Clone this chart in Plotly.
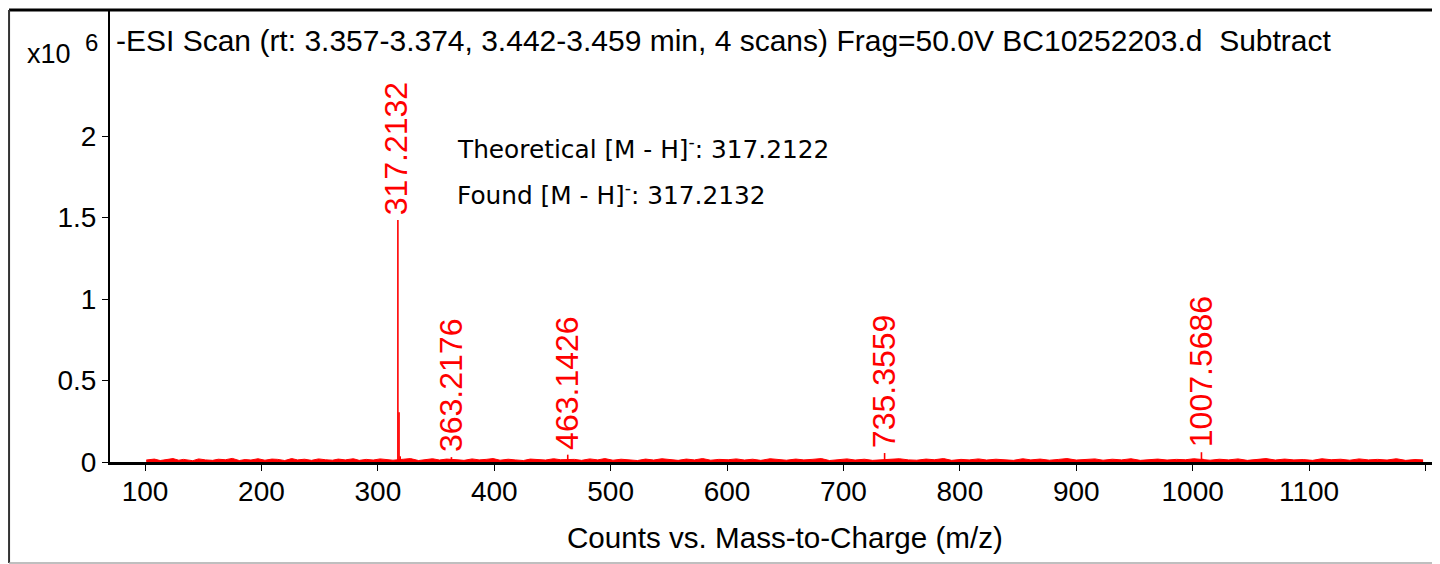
import plotly.graph_objects as go

# ---------------- data ----------------
peak_mz = [317.2132, 318.2165, 319.22, 363.2176, 463.1426, 735.3559, 1007.5686, 1008.572]
peak_int = [1.485, 0.305, 0.035, 0.03, 0.045, 0.055, 0.06, 0.02]  # x10^6 counts

label_mz = [317.2132, 363.2176, 463.1426, 735.3559, 1007.5686]
label_int = [1.485, 0.03, 0.045, 0.055, 0.06]
label_text = ["317.2132", "363.2176", "463.1426", "735.3559", "1007.5686"]

noise_mz = [101, 108, 113, 117, 124, 129, 133, 141, 146, 152,
            158, 163, 169, 175, 181, 186, 191, 197, 203, 209,
            214, 220, 226, 231, 237, 243, 249, 255, 261, 266,
            272, 279, 284, 290, 296, 302, 308, 313, 322, 328,
            335, 341, 347, 353, 359, 368, 374, 381, 387, 393,
            399, 405, 412, 418, 425, 431, 438, 444, 451, 457,
            469, 475, 482, 489, 495, 502, 509, 516, 523, 530,
            537, 544, 551, 558, 565, 572, 579, 586, 593, 601,
            608, 615, 622, 629, 637, 644, 651, 659, 666, 673,
            681, 688, 695, 703, 710, 718, 725, 741, 748, 756,
            763, 771, 778, 786, 793, 801, 808, 816, 823, 831,
            839, 846, 854, 861, 869, 877, 885, 892, 900, 908,
            916, 923, 931, 939, 947, 955, 962, 970, 978, 986,
            994, 1001, 1015, 1023, 1031, 1039, 1047, 1055, 1063, 1071,
            1079, 1087, 1095, 1103, 1111, 1119, 1127, 1135, 1143, 1151,
            1159, 1167, 1175, 1183, 1191, 1198]
noise_int = [.012, .018, .009, .015, .021, .011, .016, .008, .019, .013,
             .010, .017, .014, .022, .009, .015, .012, .020, .011, .018,
             .016, .009, .021, .013, .017, .010, .019, .014, .011, .018,
             .013, .020, .010, .016, .012, .019, .014, .011, .017, .021,
             .009, .015, .020, .012, .018, .014, .010, .019, .013, .016,
             .021, .011, .017, .013, .009, .018, .015, .012, .020, .014,
             .016, .010, .019, .013, .021, .011, .017, .014, .009, .018,
             .012, .020, .015, .010, .018, .013, .021, .011, .016, .014,
             .019, .012, .017, .010, .020, .015, .011, .018, .013, .016,
             .021, .009, .014, .019, .012, .017, .010, .015, .020, .013,
             .011, .018, .014, .021, .010, .016, .013, .019, .012, .017,
             .015, .010, .020, .013, .018, .011, .016, .021, .012, .014,
             .019, .011, .017, .013, .020, .010, .015, .018, .012, .016,
             .014, .020, .011, .017, .013, .019, .010, .016, .021, .012,
             .018, .013, .015, .010, .020, .014, .017, .011, .019, .013,
             .016, .012, .020, .010, .015, .013]

x_ticks = [100, 200, 300, 400, 500, 600, 700, 800, 900, 1000, 1100, 1200]
x_ticklabels = ["100", "200", "300", "400", "500", "600", "700", "800", "900", "1000", "1100", ""]
y_ticks = [0, 0.5, 1, 1.5, 2]
y_ticklabels = ["0", "0.5", "1", "1.5", "2"]

title_text = "-ESI Scan (rt: 3.357-3.374, 3.442-3.459 min, 4 scans) Frag=50.0V BC10252203.d  Subtract"
info_lines = ["Theoretical [M - H]<sup>-</sup>: 317.2122", "Found [M - H]<sup>-</sup>: 317.2132"]
x_title = "Counts vs. Mass-to-Charge (m/z)"
scale_base = "x10"
scale_exp = "6"

RED = "#ff0000"
ARIAL = "Liberation Sans, Arial, sans-serif"
VERDANA = "DejaVu Sans, Verdana, sans-serif"

# stick spectrum built from the peak lists
sx, sy = [], []
for m, h in zip(peak_mz, peak_int):
    sx += [m, m, None]
    sy += [0, h, None]

fig = go.Figure()
fig.add_trace(go.Scatter(x=noise_mz, y=noise_int, mode="lines", fill="tozeroy",
                         fillcolor=RED, line=dict(color=RED, width=1),
                         hoverinfo="skip", showlegend=False))
fig.add_trace(go.Scatter(x=sx, y=sy, mode="lines",
                         line=dict(color=RED, width=1.6), hoverinfo="skip", showlegend=False))

annotations = []
for m, h, t in zip(label_mz, label_int, label_text):
    annotations.append(dict(x=m, y=h, xref="x", yref="y", text=t, showarrow=False,
                            textangle=-90, xanchor="center", yanchor="bottom",
                            xshift=-1, yshift=3,
                            font=dict(family=ARIAL, size=32, color=RED)))
annotations.append(dict(x=0.003, y=0.9336, xref="paper", yref="paper", text=title_text,
                        showarrow=False, xanchor="left", yanchor="middle",
                        font=dict(family=ARIAL, size=30, color="black")))
annotations.append(dict(x=-0.0275, y=0.902, xref="paper", yref="paper",
                        text=scale_base, showarrow=False, xanchor="right", yanchor="middle",
                        font=dict(family=ARIAL, size=27, color="black")))
annotations.append(dict(x=-0.0072, y=0.927, xref="paper", yref="paper",
                        text=scale_exp, showarrow=False, xanchor="right", yanchor="middle",
                        font=dict(family=ARIAL, size=24, color="black")))
for i, line in enumerate(info_lines):
    annotations.append(dict(x=0.2595, y=0.6947 - i * 0.1018, xref="paper", yref="paper",
                            text=line, showarrow=False, xanchor="left", yanchor="middle",
                            font=dict(family=VERDANA, size=24.8, color="black")))
annotations.append(dict(x=0.5075, y=-0.166, xref="paper", yref="paper", text=x_title,
                        showarrow=False, xanchor="center", yanchor="middle",
                        font=dict(family=ARIAL, size=29.6, color="black")))

shapes = [
    # top border
    dict(type="line", xref="paper", yref="paper", x0=-0.0759, x1=1.0, y0=1.0, y1=1.0,
         line=dict(color="black", width=3)),
    # outer left border
    dict(type="line", xref="paper", yref="paper", x0=-0.0759, x1=-0.0759, y0=1.0, y1=-0.2235,
         line=dict(color="#333333", width=2)),
    # bottom border
    dict(type="line", xref="paper", yref="paper", x0=-0.0759, x1=1.0, y0=-0.2235, y1=-0.2235,
         line=dict(color="#aaaaaa", width=1.5)),
]

# the page body has an 8 px margin, so the figure is 8 px smaller and margins shifted
fig.update_layout(
    width=1432, height=556,
    margin=dict(l=102, r=0, t=2, b=102),
    paper_bgcolor="white", plot_bgcolor="white",
    annotations=annotations, shapes=shapes,
    xaxis=dict(range=[69.9, 1212.5], tickvals=x_ticks, ticktext=x_ticklabels,
               ticks="outside", ticklen=6, tickwidth=1, tickcolor="black",
               ticklabelstandoff=-4,
               showline=True, linecolor="black", linewidth=3, showgrid=False, zeroline=False,
               tickfont=dict(family=ARIAL, size=28, color="black")),
    yaxis=dict(range=[0, 2.773], tickvals=y_ticks, ticktext=y_ticklabels,
               ticks="outside", ticklen=6, tickwidth=1, tickcolor="black",
               showline=True, linecolor="black", linewidth=2, showgrid=False, zeroline=False,
               tickfont=dict(family=ARIAL, size=28, color="black")),
)

fig.write_html("out.html")
